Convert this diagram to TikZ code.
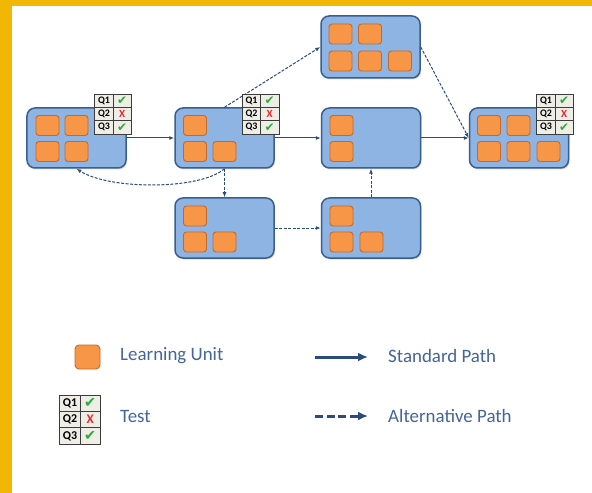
\documentclass[tikz,border=0pt]{standalone}
\usepackage{fontspec}
\setmainfont{Carlito}
\newfontfamily\symfont{DejaVu Sans}
\usetikzlibrary{arrows.meta,shadows}

\definecolor{frameyellow}{HTML}{F2B705}
\definecolor{boxfill}{HTML}{8DB4E2}
\definecolor{boxline}{HTML}{3A5F8E}
\definecolor{unitfill}{HTML}{F79646}
\definecolor{unitline}{HTML}{C2692B}
\definecolor{pathblue}{HTML}{2A4B7C}
\definecolor{legendtext}{HTML}{44659A}
\definecolor{quizbg}{HTML}{EEEEE6}
\definecolor{quizline}{HTML}{3C3C3C}
\definecolor{okgreen}{HTML}{2DAA3C}
\definecolor{badred}{HTML}{E8282E}

\tikzset{
  module/.style={draw=boxline, line width=1.5bp, fill=boxfill, rounded corners=8bp,
    minimum width=99bp, minimum height=60bp, inner sep=0,
    drop shadow={opacity=0.25, shadow xshift=1.2bp, shadow yshift=-1.5bp}},
  unit/.style={draw=unitline, line width=0.9bp, fill=unitfill, rounded corners=3bp,
    minimum width=23bp, minimum height=20bp, inner sep=0},
  std/.style={draw=pathblue, line width=1bp, -{Latex[length=5bp,width=4bp]}},
  alt/.style={std, dash pattern=on 3bp off 1.5bp},
  legendlabel/.style={text=legendtext, font=\fontsize{19}{22}\selectfont, anchor=west, inner sep=0},
  mark ok/.style={inner sep=0, text=okgreen, scale=1.2},
  mark bad/.style={inner sep=0, text=badred, scale=1.1},
}

% quiz table: name, left, top, width, height, font size
\newcommand\quizgrid[6]{%
  \node[draw=quizline, fill=quizbg, line width=0.8bp, minimum width=#4bp,
        minimum height=#5bp, inner sep=0, anchor=north west] (#1) at (#2,#3) {};
  \begin{scope}[shift={(#2,#3)}, font=\fontsize{#6}{#6}\selectfont\bfseries]
    \draw[quizline, line width=0.8bp] (0.52*#4,0) -- (0.52*#4,#5)
      (0,#5/3) -- (#4,#5/3) (0,2*#5/3) -- (#4,2*#5/3);
    \node[inner sep=0] (#1-q1) at (0.27*#4,#5/6) {Q1};
    \node[inner sep=0] (#1-q2) at (0.27*#4,#5/2) {Q2};
    \node[inner sep=0] (#1-q3) at (0.27*#4,5*#5/6) {Q3};
    \node[mark ok, font=\symfont\fontsize{#6}{#6}\selectfont] (#1-a1) at (0.76*#4,#5/6) {✔};
    \node[mark bad, font=\fontsize{#6}{#6}\selectfont\bfseries] (#1-a2) at (0.76*#4,#5/2) {X};
    \node[mark ok, font=\symfont\fontsize{#6}{#6}\selectfont] (#1-a3) at (0.76*#4,5*#5/6) {✔};
  \end{scope}}

\begin{document}
\begin{tikzpicture}[x=1bp, y=-1bp]
  \useasboundingbox (0,0) rectangle (592,493);
  \fill[white] (0,0) rectangle (592,493);
  \fill[frameyellow] (0,0) rectangle (592,6);
  \fill[frameyellow] (0,0) rectangle (12,493);

  % modules
  \node[module] (A) at (76.5,138) {};
  \node[module] (B) at (224.5,138) {};
  \node[module, minimum height=62bp] (T) at (370.5,47) {};
  \node[module] (C) at (371,138) {};
  \node[module] (F) at (519,138) {};
  \node[module] (D) at (224.5,228) {};
  \node[module] (E) at (371,228) {};

  % learning units
  \node[unit] (a1) at (47.5,125.5) {};
  \node[unit] (a2) at (76.5,125.5) {};
  \node[unit] (a3) at (47.5,151.5) {};
  \node[unit] (a4) at (76.5,151.5) {};

  \node[unit] (b1) at (195,125.5) {};
  \node[unit] (b2) at (195,151.5) {};
  \node[unit] (b3) at (224.5,151.5) {};

  \node[unit] (t1) at (340.5,34) {};
  \node[unit] (t2) at (370,34) {};
  \node[unit] (t3) at (340.5,61) {};
  \node[unit] (t4) at (370,61) {};
  \node[unit] (t5) at (400,61) {};

  \node[unit] (c1) at (341.5,125.5) {};
  \node[unit] (c2) at (341.5,151.5) {};

  \node[unit] (f1) at (489,125.5) {};
  \node[unit] (f2) at (518.5,125.5) {};
  \node[unit] (f3) at (489,151.5) {};
  \node[unit] (f4) at (518.5,151.5) {};
  \node[unit] (f5) at (548.5,151.5) {};

  \node[unit] (d1) at (195,216) {};
  \node[unit] (d2) at (195,242) {};
  \node[unit] (d3) at (224.5,242) {};

  \node[unit] (e1) at (341.5,216) {};
  \node[unit] (e2) at (341.5,242) {};
  \node[unit] (e3) at (371.5,242) {};

  % paths
  \draw[std] (A) -- (B);
  \draw[std] (B) -- (C);
  \draw[std] (C) -- (F);
  \draw[alt] (B.north) -- (T.west);
  \draw[alt] (T.east) -- (F.west);
  \draw[alt] (B.south) .. controls (200,190) and (110,190) .. (A.south);
  \draw[alt] (B.south) -- (D.north);
  \draw[alt] (D.east) -- (E.west);
  \draw[alt] (E.north) -- (C.south);

  % tests
  \quizgrid{qa}{94}{94}{37}{40}{10}
  \quizgrid{qb}{241.5}{94}{37}{40}{10}
  \quizgrid{qf}{536}{94}{37}{40}{10}

  % legend
  \node[unit, minimum width=25bp, minimum height=24bp, rounded corners=4bp] (lu) at (87.5,357) {};
  \node[legendlabel] (lul) at (120,356) {Learning Unit};
  \quizgrid{lq}{59}{395}{41}{49}{12}
  \node[legendlabel] (lql) at (120,416) {Test};

  \coordinate (s0) at (315,357);
  \coordinate (s1) at (368,357);
  \draw[draw=pathblue, line width=3bp, -{Latex[length=10bp,width=9bp]}] (s0) -- (s1);
  \node[legendlabel] (sl) at (388,356) {Standard Path};
  \coordinate (p0) at (315,416);
  \coordinate (p1) at (368,416);
  \draw[draw=pathblue, line width=3bp, dash pattern=on 8bp off 3.5bp, -{Latex[length=10bp,width=9bp]}] (p0) -- (p1);
  \node[legendlabel] (pl) at (388,416) {Alternative Path};
\end{tikzpicture}
\end{document}
